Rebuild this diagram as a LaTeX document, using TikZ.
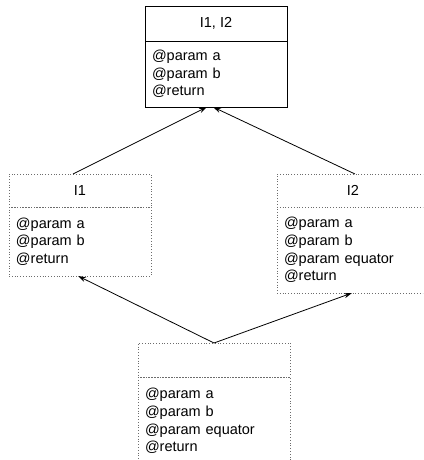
\documentclass[tikz,border=0pt]{standalone}
\usepackage{fontspec}
\setmainfont{Liberation Sans}
\usetikzlibrary{positioning,arrows.meta}

\begin{document}
\begin{tikzpicture}[x=1pt,y=-1pt,
        font=\fontsize{14.5}{17.6}\selectfont,
        head/.style={draw, line width=.7pt, minimum height=35pt, inner sep=0pt, outer sep=0pt, anchor=north west},
        body/.style={draw, line width=.7pt, inner xsep=7pt, inner ysep=0pt, outer sep=0pt, align=left, below=0pt of #1},
        dots/.style={dash pattern=on .8pt off 2pt, draw=gray!85!black, text=black},
        link/.style={line width=.8pt, -{Stealth[length=8pt,width=5pt]}}]
        \useasboundingbox (0,0) rectangle (423,460);
        \clip (0,0) rectangle (423,460);
        % top box
        \node[head, minimum width=142pt] (bothh) at (145,6) {I1, I2};
        \node[body=bothh, text width=128pt, minimum height=66pt] (bothb) {@param a\\@param b\\@return};
        % first interface
        \node[head, dots, minimum width=142pt, minimum height=33pt] (oneh) at (9,174) {I1};
        \node[body=oneh, dots, text width=128pt, minimum height=69pt] (oneb) {@param a\\@param b\\@return};
        % second interface
        \node[head, dots, minimum width=152pt, minimum height=33pt] (twoh) at (277,174) {I2};
        \node[body=twoh, dots, text width=138pt, minimum height=86pt] (twob) {@param a\\@param b\\@param equator\\@return};
        % implementing class
        \node[head, dots, minimum width=152pt, minimum height=34pt] (implh) at (138,343) {};
        \node[body=implh, dots, text width=138pt, minimum height=88pt] (implb) {@param a\\@param b\\@param equator\\@return};
        % links
        \draw[link] ([xshift=-7pt]oneh.north) -- ([xshift=-9pt]bothb.south);
        \draw[link] ([xshift=2pt]twoh.north) -- ([xshift=-3pt]bothb.south);
        \draw[link] (implh.north) -- ([xshift=-2pt]oneb.south);
        \draw[link] (implh.north) -- ([xshift=-1pt]twob.south);
\end{tikzpicture}
\end{document}
